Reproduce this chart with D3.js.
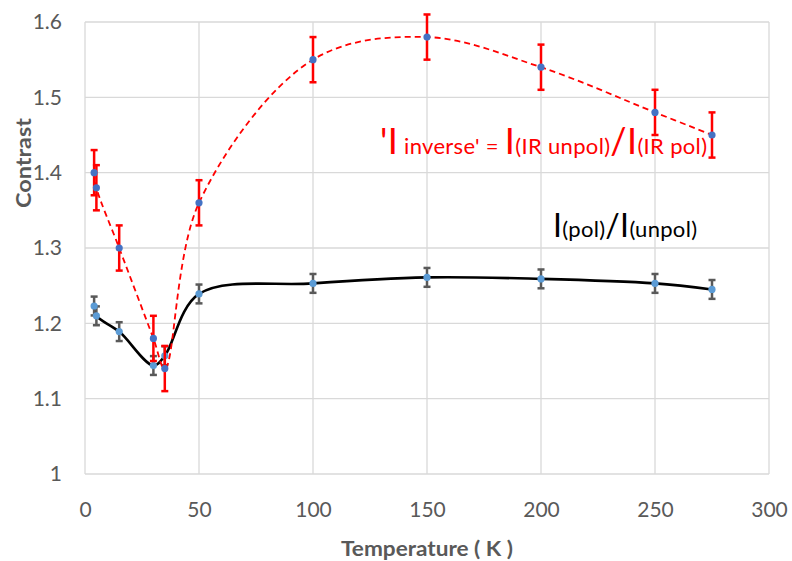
<!DOCTYPE html>
<html>
<head>
<meta charset="utf-8">
<script src="https://cdn.jsdelivr.net/npm/d3@7"></script>
<style>
  html, body { margin: 0; padding: 0; background: #fff; }
  svg { display: block; }
  text { font-family: Lato, "Open Sans", sans-serif; }
</style>
</head>
<body>
<div id="chart"></div>
<script>
// Temperature (K) of each measurement
const temperature = [4, 5, 15, 30, 35, 50, 100, 150, 200, 250, 275];
// I(pol)/I(unpol) contrast and its uncertainty
const contrastPol = [1.223, 1.210, 1.189, 1.144, 1.157, 1.239, 1.253, 1.261, 1.259, 1.253, 1.245];
const contrastPolErr = [0.0125, 0.0125, 0.0125, 0.0125, 0.0125, 0.0125, 0.0125, 0.0125, 0.0125, 0.0125, 0.0125];
// 'I inverse' = I(IR unpol)/I(IR pol) and its uncertainty
const contrastInv = [1.40, 1.38, 1.30, 1.18, 1.14, 1.36, 1.55, 1.58, 1.54, 1.48, 1.45];
const contrastInvErr = [0.03, 0.03, 0.03, 0.03, 0.03, 0.03, 0.03, 0.03, 0.03, 0.03, 0.03];
// Axis ticks
const xTicks = [0, 50, 100, 150, 200, 250, 300];
const yTicks = [1, 1.1, 1.2, 1.3, 1.4, 1.5, 1.6];

const W = 792, H = 561;
const margin = { left: 85, right: 23, top: 22, bottom: 87 };

const svg = d3.select("#chart").append("svg")
  .attr("width", W).attr("height", H);
svg.append("rect").attr("width", W).attr("height", H).attr("fill", "#fff");

const x = d3.scaleLinear().domain([0, 300]).range([margin.left, W - margin.right]);
const y = d3.scaleLinear().domain([1, 1.6]).range([H - margin.bottom, margin.top]);

// Gridlines
const grid = svg.append("g");
grid.selectAll("line.h").data(yTicks).join("line")
  .attr("x1", x(0)).attr("x2", x(300))
  .attr("y1", d => y(d)).attr("y2", d => y(d))
  .attr("stroke", "#d9d9d9").attr("stroke-width", 1.3);
grid.selectAll("line.v").data(xTicks).join("line")
  .attr("y1", y(1)).attr("y2", y(1.6))
  .attr("x1", d => x(d)).attr("x2", d => x(d))
  .attr("stroke", "#d9d9d9").attr("stroke-width", 1.3);

// Axes (labels only; the frame comes from the gridlines)
const xAxis = svg.append("g").attr("transform", `translate(0,${y(1)})`)
  .call(d3.axisBottom(x).tickValues(xTicks).tickSize(0).tickPadding(28).tickFormat(d3.format("d")));
const yAxis = svg.append("g").attr("transform", `translate(${x(0)},0)`)
  .call(d3.axisLeft(y).tickValues(yTicks).tickSize(0).tickPadding(23).tickFormat(d => d === 1 ? "1" : d3.format(".1f")(d)));
[xAxis, yAxis].forEach(a => {
  a.select(".domain").remove();
  a.selectAll("text").attr("font-size", 21).attr("fill", "#595959")
    .attr("font-family", "Lato, sans-serif");
});

// Axis titles
svg.append("text")
  .attr("x", 427).attr("y", 556)
  .attr("text-anchor", "middle")
  .attr("font-size", 21).attr("font-weight", "bold").attr("fill", "#595959")
  .attr("textLength", 172).attr("lengthAdjust", "spacingAndGlyphs")
  .text("Temperature ( K )");
svg.append("text")
  .attr("transform", "translate(31,163) rotate(-90)")
  .attr("text-anchor", "middle")
  .attr("font-size", 20).attr("font-weight", "bold").attr("fill", "#595959")
  .attr("textLength", 90).attr("lengthAdjust", "spacingAndGlyphs")
  .text("Contrast");

const rows = (vals, errs) => temperature.map((t, i) => ({ t, v: vals[i], e: errs[i] }));

function drawSeries(data, opts) {
  const g = svg.append("g");
  g.append("path")
    .datum(data)
    .attr("fill", "none")
    .attr("stroke", opts.line)
    .attr("stroke-width", opts.lineWidth)
    .attr("stroke-dasharray", opts.dash || null)
    .attr("d", d3.line().x(d => x(d.t)).y(d => y(d.v)).curve(d3.curveCatmullRom.alpha(0.5)));

  const cap = 3.5;
  const eb = g.append("g").attr("stroke", opts.err).attr("stroke-width", 2.5);
  eb.selectAll("line.stem").data(data).join("line")
    .attr("x1", d => x(d.t)).attr("x2", d => x(d.t))
    .attr("y1", d => y(d.v - d.e)).attr("y2", d => y(d.v + d.e));
  eb.selectAll("line.top").data(data).join("line")
    .attr("x1", d => x(d.t) - cap).attr("x2", d => x(d.t) + cap)
    .attr("y1", d => y(d.v + d.e)).attr("y2", d => y(d.v + d.e));
  eb.selectAll("line.bot").data(data).join("line")
    .attr("x1", d => x(d.t) - cap).attr("x2", d => x(d.t) + cap)
    .attr("y1", d => y(d.v - d.e)).attr("y2", d => y(d.v - d.e));

  g.selectAll("circle").data(data).join("circle")
    .attr("cx", d => x(d.t)).attr("cy", d => y(d.v))
    .attr("r", 3.6).attr("fill", opts.dot);
}

drawSeries(rows(contrastPol, contrastPolErr),
  { line: "#000", lineWidth: 2.6, err: "#595959", dot: "#5b9bd5" });
drawSeries(rows(contrastInv, contrastInvErr),
  { line: "#ff0000", lineWidth: 1.8, dash: "6,4", err: "#ff0000", dot: "#4472c4" });

// Series annotations
const red = svg.append("text").attr("x", 380).attr("y", 154).attr("fill", "#ff0000")
  .attr("textLength", 327).attr("lengthAdjust", "spacing");
red.append("tspan").attr("font-size", 36).text("'I");
red.append("tspan").attr("font-size", 22).text(" inverse' = ");
red.append("tspan").attr("font-size", 36).text("I");
red.append("tspan").attr("font-size", 22).text("(IR unpol)");
red.append("tspan").attr("font-size", 36).text("/I");
red.append("tspan").attr("font-size", 22).text("(IR pol)");

const blk = svg.append("text").attr("x", 553).attr("y", 237).attr("fill", "#000")
  .attr("textLength", 144).attr("lengthAdjust", "spacing");
blk.append("tspan").attr("font-size", 32).text("I");
blk.append("tspan").attr("font-size", 22).text("(pol)");
blk.append("tspan").attr("font-size", 32).text("/I");
blk.append("tspan").attr("font-size", 22).text("(unpol)");
</script>
</body>
</html>
